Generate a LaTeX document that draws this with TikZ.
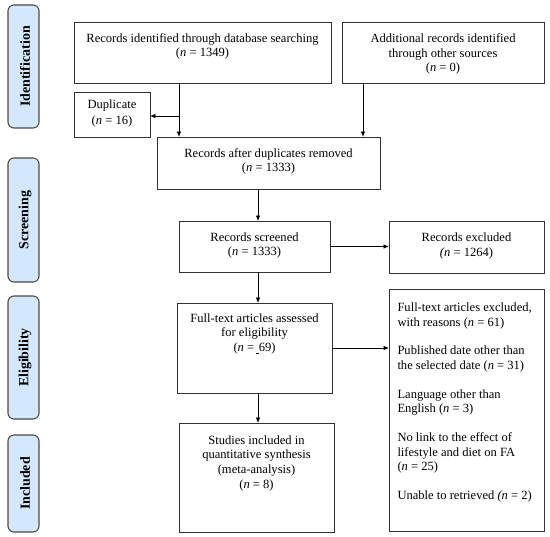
\documentclass[tikz,border=0pt]{standalone}
\usepackage{fontspec}
\setmainfont{Liberation Serif}
\usetikzlibrary{arrows.meta,calc}
\definecolor{phasefill}{HTML}{D3E8FA}
\definecolor{phasedraw}{HTML}{4A4A4A}
\definecolor{boxdraw}{HTML}{333333}
\newcommand{\nn}{\textit{n}}
\begin{document}
\begin{tikzpicture}[x=1bp,y=-1bp,
  every node/.style={font=\fontsize{12.6}{14.7}\selectfont},
  box/.style={draw=boxdraw, line width=0.9pt, fill=white, inner sep=0pt, outer sep=0pt, anchor=north west},
  txt/.style={inner sep=0pt, outer sep=0pt, anchor=north, align=center},
  phase/.style={draw=phasedraw, fill=phasefill, line width=1.1pt, rounded corners=6bp, inner sep=0pt, outer sep=0pt, minimum width=31bp, anchor=north west},
  phasetxt/.style={rotate=90, font=\fontsize{14}{15}\selectfont\bfseries, inner sep=0pt},
  arr/.style={draw=black, line width=0.8pt, -{Latex[length=5.5pt,width=4.5pt]}}
]
\useasboundingbox (0,0) rectangle (550,537);

% phase labels
\node[phase, minimum height=123bp] (pid) at (8,5) {};
\node[phasetxt] (tid) at ([xshift=1.5bp]pid.center) {Identification};
\node[phase, minimum height=124bp] (psc) at (8,158) {};
\node[phasetxt] (tsc) at ([xshift=1.5bp]psc.center) {Screening};
\node[phase, minimum height=123bp] (pel) at (8,296) {};
\node[phasetxt] (tel) at ([xshift=1.5bp]pel.center) {Eligibility};
\node[phase, minimum height=97bp] (pin) at (8,435) {};
\node[phasetxt] (tin) at ([xshift=1.5bp]pin.center) {Included};

% boxes
\node[box, minimum width=257bp, minimum height=61bp] (db) at (74,22) {};
\node[txt] (tdb) at ([yshift=-11.5bp]db.north) {Records identified through database searching\\(\nn{} = 1349)};

\node[box, minimum width=202bp, minimum height=61bp] (add) at (342,22) {};
\node[txt] (tadd) at ([yshift=-11.8bp]add.north) {Additional records identified\\through other sources\\(\nn{} = 0)};

\node[box, minimum width=76bp, minimum height=45bp] (dup) at (74,92) {};
\node[txt, font=\fontsize{12.6}{16.5}\selectfont] (tdup) at ([yshift=-7.5bp]dup.north) {Duplicate\\(\nn{} = 16)};

\node[box, minimum width=223bp, minimum height=52bp] (after) at (157,137) {};
\node[txt] (tafter) at ([yshift=-11.5bp]after.north) {Records after duplicates removed\\(\nn{} = 1333)};

\node[box, minimum width=151bp, minimum height=51bp] (scr) at (179,221) {};
\node[txt] (tscr) at ([yshift=-11.5bp]scr.north) {Records screened\\(\nn{} = 1333)};

\node[box, minimum width=155bp, minimum height=52bp] (rexc) at (389,221) {};
\node[txt] (trexc) at ([yshift=-11.8bp]rexc.north) {Records excluded\\\textit{(n} = 1264)};

\node[box, minimum width=155bp, minimum height=90bp] (ft) at (177,303) {};
\node[txt] (tft) at ([yshift=-10.5bp]ft.north) {Full-text articles assessed\\for eligibility\\(\nn{} =\,\underline{\hspace{2.5pt}}69)};

\node[box, minimum width=155bp, minimum height=242bp] (ftexc) at (389,289) {};
\node[txt, anchor=north west, align=left] (tftexc) at ([xshift=8.5bp,yshift=-14bp]ftexc.north west) {Full-text articles excluded,\\with reasons (\nn{} = 61)\\[14pt]Published date other than\\the selected date (\nn{} = 31)\\[14pt]Language other than\\English (\nn{} = 3)\\[14pt]No link to the effect of\\lifestyle and diet on FA\\(\nn{} = 25)\\[14pt]Unable to retrieved \textit{(n} = 2)};

\node[box, minimum width=155bp, minimum height=109bp] (stud) at (179,423) {};
\node[txt] (tstud) at ([yshift=-12.5bp]stud.north) {Studies included in\\quantitative synthesis\\(meta-analysis)\\(\nn{} = 8)};

% connectors
\coordinate (cdb) at (179,0);
\coordinate (cadd) at (363,0);
\coordinate (cmid) at (258,0);
\coordinate (br) at (179,116);
\draw[arr] (db.south -| cdb) -- (after.north -| cdb);
\draw[arr] (br) -- (br -| dup.east);
\draw[arr] (add.south -| cadd) -- (after.north -| cadd);
\draw[arr] (after.south -| cmid) -- (scr.north -| cmid);
\draw[arr] (scr.east) -- (scr.east -| rexc.west);
\draw[arr] (scr.south -| cmid) -- (ft.north -| cmid);
\draw[arr] (ft.east) -- (ft.east -| ftexc.west);
\draw[arr] (ft.south -| cmid) -- (stud.north -| cmid);
\end{tikzpicture}
\end{document}
